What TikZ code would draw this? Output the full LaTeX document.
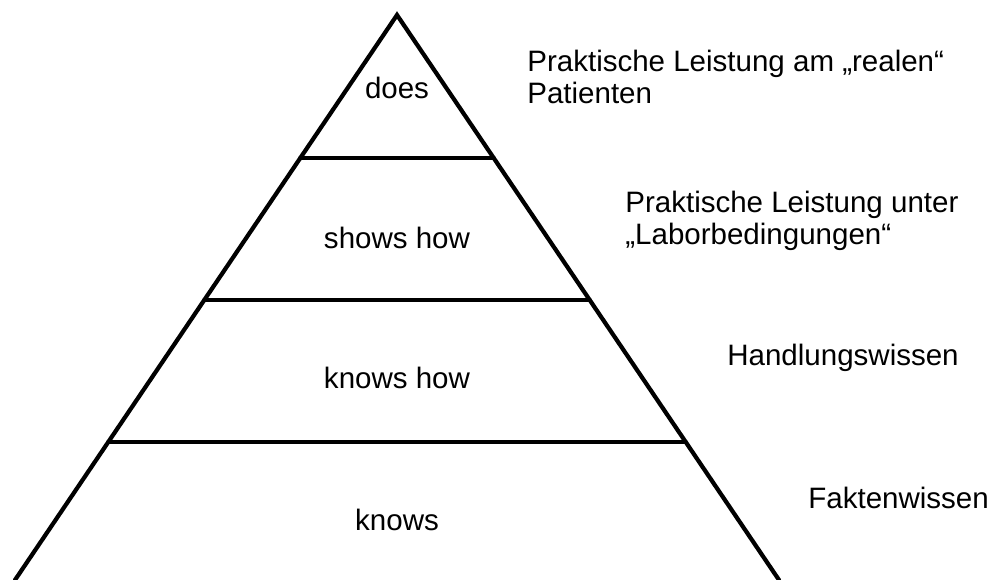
\documentclass[tikz,border=0pt]{standalone}
\usepackage{fontspec}
\setmainfont{Liberation Sans}
\usetikzlibrary{positioning,calc}

\begin{document}
\begin{tikzpicture}[x=0.02cm, y=-0.02cm,
    edge/.style={line width=2.4pt, line cap=round, line join=miter},
    level/.style={font=\fontsize{16.8}{18.4}\selectfont, text=black},
    note/.style={font=\fontsize{16.8}{18.4}\selectfont, text=black, anchor=west, align=left, inner sep=0pt}]
\useasboundingbox (0,0) rectangle (1000,580);

\coordinate (apex) at (397,15);
\coordinate (bl) at (15,580);
\coordinate (br) at (779,580);

% layer borders
\coordinate (l1) at ($(apex)!0.2531!(bl)$);
\coordinate (r1) at ($(apex)!0.2531!(br)$);
\coordinate (l2) at ($(apex)!0.5044!(bl)$);
\coordinate (r2) at ($(apex)!0.5044!(br)$);
\coordinate (l3) at ($(apex)!0.7558!(bl)$);
\coordinate (r3) at ($(apex)!0.7558!(br)$);

\draw[edge] (bl) -- (apex) -- (br);
\draw[edge] (l1) -- (r1);
\draw[edge] (l2) -- (r2);
\draw[edge] (l3) -- (r3);

\node[level] (does) at (397,88) {does};
\node[level] (shows) at (397,238) {shows how};
\node[level] (knowshow) at (397,378) {knows how};
\node[level] (knows) at (397,520) {knows};

\node[note] (real) at (527,77) {Praktische Leistung am „realen“\\Patienten};
\node[note] (labor) at (625,221) {Praktische Leistung unter\\„Laborbedingungen“};
\node[note] (handlung) at (727,358) {Handlungswissen};
\node[note] (fakten) at (808,498) {Faktenwissen};
\end{tikzpicture}
\end{document}
